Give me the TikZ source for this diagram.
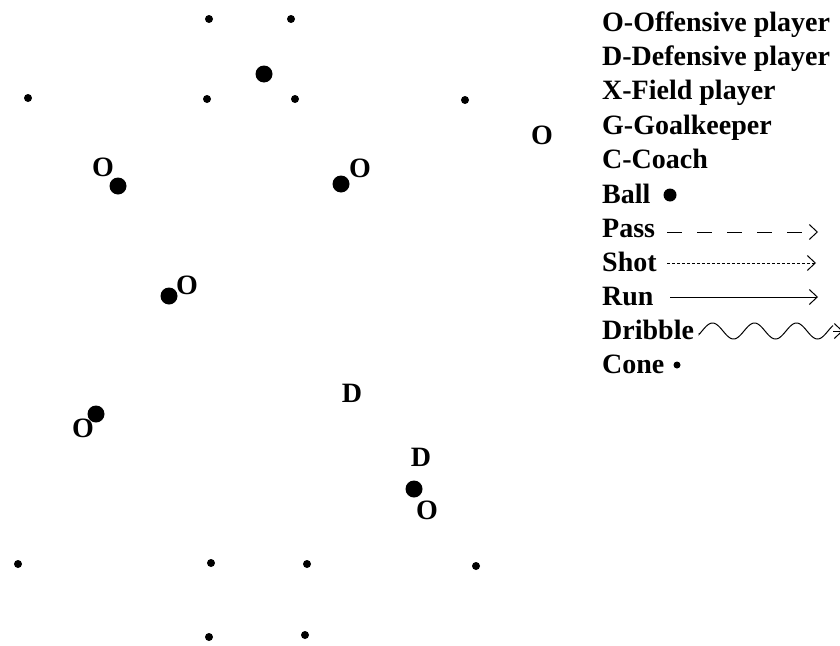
\documentclass[tikz,border=0pt]{standalone}
\usepackage{fontspec}
\setmainfont{Liberation Serif}
\usetikzlibrary{arrows.meta}
\begin{document}
\begin{tikzpicture}[x=1pt,y=-1pt,
  cone/.style={circle,fill=black,inner sep=0pt,minimum size=8pt},
  ball/.style={circle,fill=black,inner sep=0pt,minimum size=17pt},
  olbl/.style={inner sep=0pt,font=\bfseries\fontsize{28}{28}\selectfont,text height=19pt,text depth=0pt},
  dlbl/.style={inner sep=0pt,font=\bfseries\fontsize{28}{28}\selectfont,text height=18.5pt,text depth=0pt},
  legtext/.style={anchor=west,inner sep=0pt,font=\bfseries\fontsize{28}{28}\selectfont,text height=18.5pt,text depth=0pt},
  tip/.style={-{Straight Barb[length=8pt,width=15pt,line width=1pt]}},
  leg/.style={line width=1pt}]
\useasboundingbox[fill=white] (0,0) rectangle (840,645);

% cones
\node[cone] (c1) at (209,19) {};
\node[cone] (c2) at (291,19) {};
\node[cone] (c3) at (28,98) {};
\node[cone] (c4) at (207,99) {};
\node[cone] (c5) at (295,99) {};
\node[cone] (c6) at (465,100) {};
\node[cone] (c7) at (18,564) {};
\node[cone] (c8) at (211,563) {};
\node[cone] (c9) at (307,564) {};
\node[cone] (c10) at (476,566) {};
\node[cone] (c11) at (209,637) {};
\node[cone] (c12) at (305,635) {};

% balls
\node[ball] (b1) at (264,74) {};
\node[ball] (b2) at (118,186) {};
\node[ball] (b3) at (341,184) {};
\node[ball] (b4) at (169,296) {};
\node[ball] (b5) at (96,414) {};
\node[ball] (b6) at (414,489) {};

% player labels
\node[olbl] (o1) at (103,167) {O};
\node[olbl] (o2) at (360,168) {O};
\node[olbl] (o3) at (187,285) {O};
\node[olbl] (o4) at (83,428) {O};
\node[olbl] (o5) at (427,510) {O};
\node[olbl] (o6) at (542,135) {O};
\node[dlbl] (d1) at (352,393) {D};
\node[dlbl] (d2) at (421,457) {D};

% legend
\node[legtext] (l1) at (602,22) {O-Offensive player};
\node[legtext] (l2) at (602,56) {D-Defensive player};
\node[legtext] (l3) at (602,90) {X-Field player};
\node[legtext] (l4) at (602,125) {G-Goalkeeper};
\node[legtext] (l5) at (602,159) {C-Coach};
\node[legtext] (l6) at (602,194) {Ball};
\node[circle,fill=black,inner sep=0pt,minimum size=13pt] (lball) at (670,195) {};
\node[legtext] (l7) at (602,228) {Pass};
\coordinate (p1) at (667,232);
\coordinate (p2) at (818,232);
\draw[leg,tip,dash pattern=on 15pt off 15pt] (p1) -- (p2);
\node[legtext] (l8) at (602,262) {Shot};
\coordinate (s1) at (667,263);
\coordinate (s2) at (816,263);
\draw[leg,tip,dash pattern=on 3pt off 2pt] (s1) -- (s2);
\node[legtext] (l9) at (602,296) {Run};
\coordinate (r1) at (670,297);
\coordinate (r2) at (818,297);
\draw[leg,tip] (r1) -- (r2);
\node[legtext] (l10) at (602,330) {Dribble};
\coordinate (w1) at (699,333);
\coordinate (w2) at (843,331);
\draw[leg] (w1) -- plot[domain=2:136,samples=120] ({697+\x},{331-8*sin(8.5714*(\x-5))});
\draw[leg,tip] (833,331) -- (w2);
\node[legtext] (l11) at (602,364) {Cone};
\node[circle,fill=black,inner sep=0pt,minimum size=7pt] (lcone) at (677,365) {};
\end{tikzpicture}
\end{document}
